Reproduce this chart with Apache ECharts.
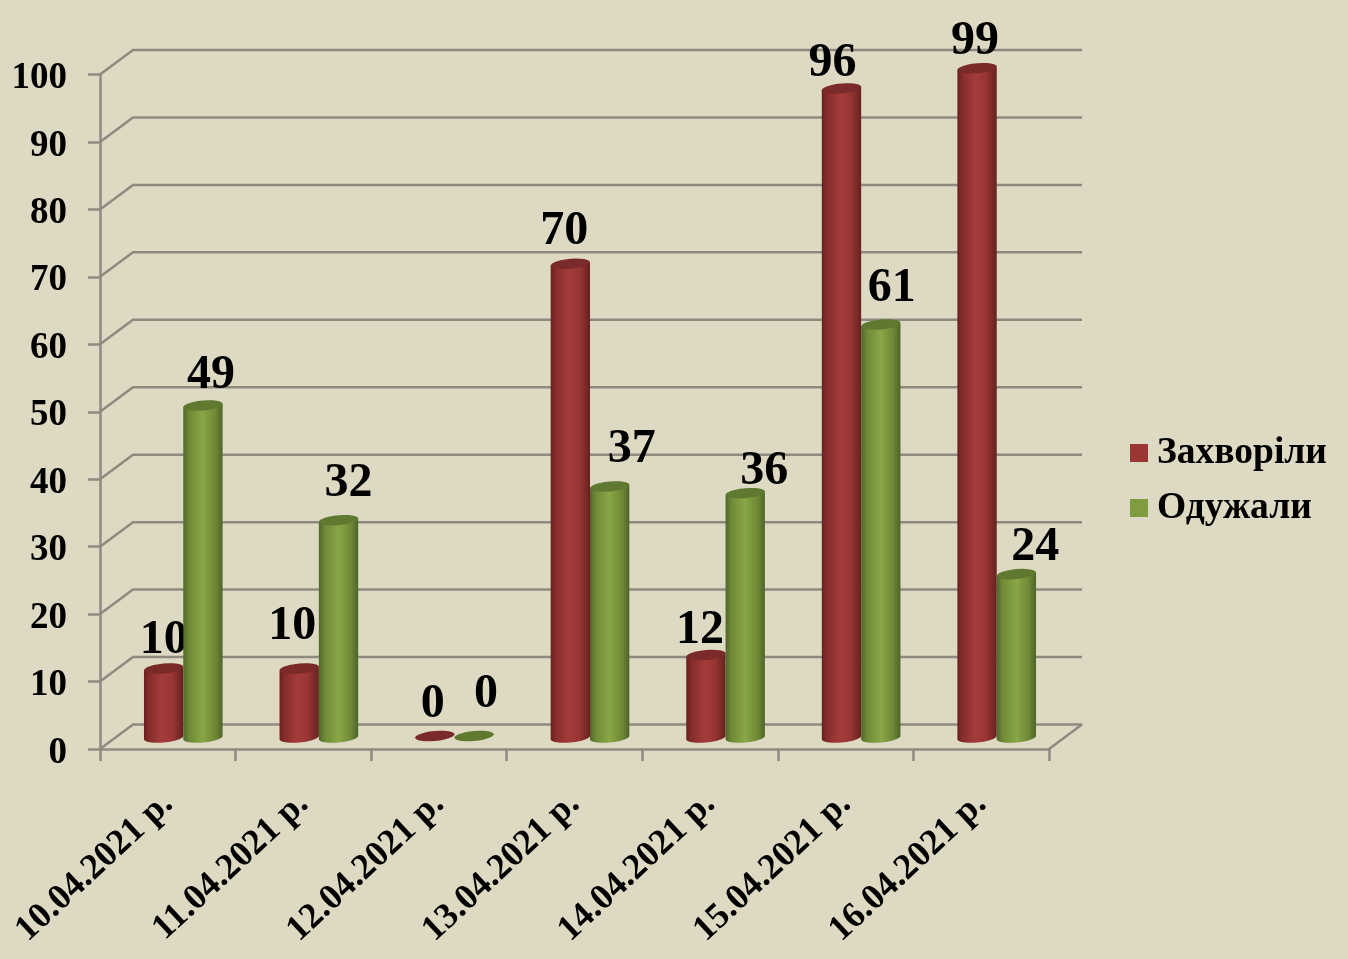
<!DOCTYPE html>
<html><head><meta charset="utf-8">
<style>html,body{margin:0;padding:0;background:#ddd9c3}#c{width:1348px;height:959px}</style>
<script src="https://cdn.jsdelivr.net/npm/echarts@6/dist/echarts.min.js"></script>
</head><body><div id="c"></div>
<script>
const dates = ['10.04.2021 р.','11.04.2021 р.','12.04.2021 р.','13.04.2021 р.','14.04.2021 р.','15.04.2021 р.','16.04.2021 р.'];
const sick = [10,10,0,70,12,96,99];
const recovered = [49,32,0,37,36,61,24];
const gridValues = [0,10,20,30,40,50,60,70,80,90,100];
// hand-placed label nudges of the original (dx, dy from the top of the cylinder)
const sickLabelNudge = [[0,-28],[-7,-42],[-2,-31],[-6,-32],[-6,-24],[-9,-25],[-2,-27]];
const recoveredLabelNudge = [[8,-30],[10,-37],[12,-41],[22,-37],[19,-22],[11,-36],[19,-27]];

const FONT = '"Liberation Serif","Times New Roman",serif';
const DEPTH_X = 33, DEPTH_Y = -24.5, LINE = '#8f8a80';
const grad = stops => new echarts.graphic.LinearGradient(0,0,1,0,stops.map(s=>({offset:s[0],color:s[1]})));
const RED = {flat:'#9b3634', top:'#7a2a29', side:[[0,'#672120'],[.12,'#842c2b'],[.45,'#a33c3a'],[.72,'#983634'],[.9,'#7a2928'],[1,'#652020']]};
const GREEN = {flat:'#7f9c3f', top:'#5f7a30', side:[[0,'#51662a'],[.15,'#6e8a37'],[.5,'#88a746'],[.82,'#6d8836'],[1,'#4f6329']]};

function arc(cx,cy,rx,ry,from,to){
  const pts=[], n=24;
  for(let i=0;i<=n;i++){
    const t=from+(to-from)*i/n;
    pts.push([cx+rx*Math.cos(t), cy+ry*Math.sin(t)-1.7*Math.cos(t)]);
  }
  return pts;
}
function cylinder(look, side, nudges){
  return function(params, api){
    const i=api.value(0), v=api.value(1);
    const p=api.coord([i,v]), p0=api.coord([i,0]);
    const band=api.size([1,0])[0], w=band*0.29, rx=w/2, ry=5;
    const cx=p[0]+DEPTH_X/2+side*rx-1;
    const cyTop=p[1]-13, cyBase=p0[1]-11.5;
    const children=[];
    if(v>0){
      const body=[...arc(cx,cyTop,rx,ry,Math.PI,Math.PI),...arc(cx,cyBase,rx,ry,Math.PI,0),...arc(cx,cyTop,rx,ry,0,0)];
      children.push({type:'polygon',shape:{points:body},style:{fill:grad(look.side)}});
    }
    children.push({type:'polygon',shape:{points:arc(cx,cyTop,rx,ry,0,Math.PI*2)},style:{fill:look.top}});
    const nd=nudges[params.dataIndex];
    children.push({type:'text',style:{text:String(v),x:cx+nd[0],y:cyTop+nd[1],align:'center',verticalAlign:'middle',
      font:'bold 48px '+FONT,fill:'#000'}});
    return {type:'group',children};
  };
}
function wall(params, api){
  const y=api.coord([0,api.value(0)])[1];
  const cs=params.coordSys, l=cs.x, r=cs.x+cs.width;
  const children=[{type:'polyline',shape:{points:[[l,y],[l+DEPTH_X,y+DEPTH_Y],[r+DEPTH_X,y+DEPTH_Y]]},
    style:{stroke:LINE,lineWidth:2.5,fill:null}}];
  if(api.value(0)===0) children.push({type:'line',shape:{x1:r,y1:y,x2:r+DEPTH_X,y2:y+DEPTH_Y},style:{stroke:LINE,lineWidth:2.5}});
  return {type:'group',children};
}
const chart=echarts.init(document.getElementById('c'),null,{renderer:'canvas'});
const axisLine={show:true,lineStyle:{color:LINE,width:2.5}};
chart.setOption({
  animation:false,
  backgroundColor:'#ddd9c3',
  textStyle:{fontFamily:FONT},
  grid:{left:100,right:299,top:74.5,bottom:210,containLabel:false,outerBoundsMode:'none'},
  legend:{data:['Захворіли','Одужали'],orient:'vertical',left:1125,top:429,icon:'rect',itemWidth:18,itemHeight:18,itemGap:17,
    textStyle:{fontFamily:FONT,fontWeight:'bold',fontSize:37.5,color:'#000',padding:[0,0,0,4]}},
  xAxis:{type:'category',data:dates,boundaryGap:true,axisLine,axisTick:{show:true,length:12,alignWithLabel:false,lineStyle:{color:LINE,width:2.5}},
    axisLabel:{rotate:43,interval:0,margin:50,fontFamily:FONT,fontWeight:'bold',fontSize:36,color:'#000'},splitLine:{show:false}},
  yAxis:{type:'value',min:0,max:100,interval:10,axisLine,axisTick:{show:true,length:12,lineStyle:{color:LINE,width:2.5}},
    axisLabel:{margin:33,verticalAlign:'top',lineHeight:8,fontFamily:FONT,fontWeight:'bold',fontSize:37,color:'#000'},splitLine:{show:false}},
  series:[
    {type:'custom',name:'wall',data:gridValues.map(v=>[v]),encode:{y:0},renderItem:wall,silent:true,z:1},
    {type:'custom',name:'Захворіли',data:sick.map((v,i)=>[i,v]),encode:{x:0,y:1},renderItem:cylinder(RED,-1,sickLabelNudge),itemStyle:{color:RED.flat},z:2},
    {type:'custom',name:'Одужали',data:recovered.map((v,i)=>[i,v]),encode:{x:0,y:1},renderItem:cylinder(GREEN,1,recoveredLabelNudge),itemStyle:{color:GREEN.flat},z:3}
  ]
});
</script></body></html>
